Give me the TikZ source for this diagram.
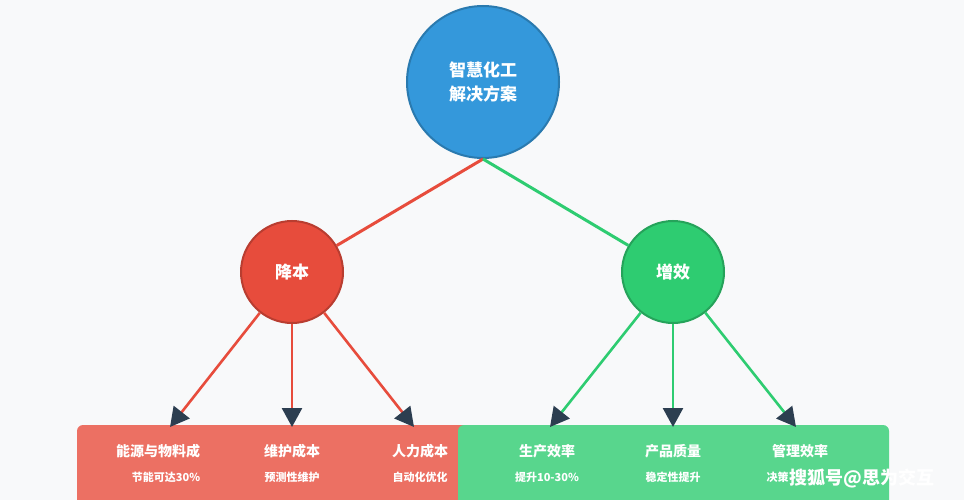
\documentclass[tikz,border=0pt]{standalone}
\usepackage{fontspec}
\setmainfont{Noto Sans CJK SC}
\usetikzlibrary{arrows.meta}
\definecolor{bgc}{HTML}{F8F9FA}
\definecolor{blueC}{HTML}{3498DB}
\definecolor{redC}{HTML}{E74C3C}
\definecolor{greenC}{HTML}{2ECC71}
\definecolor{redBox}{HTML}{EC7063}
\definecolor{greenBox}{HTML}{58D68D}
\definecolor{tipC}{HTML}{2C3E50}
\begin{document}
\begin{tikzpicture}[x=1pt,y=-1pt,
  hub/.style={draw,circle,line width=2pt,text=white,font=\bfseries\fontsize{17}{24}\selectfont,align=center},
  item/.style={text=white,font=\bfseries\fontsize{14}{16}\selectfont},
  sub/.style={text=white,font=\bfseries\fontsize{11}{13}\selectfont},
  link/.style={line width=3pt},
  arr/.style={line width=2.6pt,-{Triangle[length=19pt,width=20pt,color=tipC]}}]
\fill[bgc] (0,0) rectangle (964,500);
\useasboundingbox (0,0) rectangle (964,500);
% boxes
\fill[redBox,rounded corners=6pt] (77,425) rectangle (475,512);
\fill[greenBox,rounded corners=6pt] (458,425) rectangle (889,512);
% circles
\node[hub,fill=blueC,draw=blueC!80!black,minimum size=152pt] (top) at (483,82) {智慧化工\\解决方案};
\node[hub,fill=redC,draw=redC!80!black,minimum size=102pt] (cost) at (292,272) {降本};
\node[hub,fill=greenC,draw=greenC!80!black,minimum size=102pt] (gain) at (673,272) {增效};
\draw[link,redC] (top.south) -- (cost);
\draw[link,greenC] (top.south) -- (gain);
% arrow ends
\coordinate (r1) at (170,427); \coordinate (r2) at (292,427); \coordinate (r3) at (414,427);
\coordinate (g1) at (550,427); \coordinate (g2) at (673,427); \coordinate (g3) at (796,427);
\foreach \t in {r1,r2,r3} \draw[arr,redC] (cost) -- (\t);
\foreach \t in {g1,g2,g3} \draw[arr,greenC] (gain) -- (\t);
% labels
\node[item] (t1) at (158,451) {能源与物料成};
\node[item] (t2) at (292,451) {维护成本};
\node[item] (t3) at (420,451) {人力成本};
\node[item] (t4) at (547,451) {生产效率};
\node[item] (t5) at (673,451) {产品质量};
\node[item] (t6) at (800,451) {管理效率};
\node[sub] (s1) at (166,477) {节能可达30\%};
\node[sub] (s2) at (292,477) {预测性维护};
\node[sub] (s3) at (420,477) {自动化优化};
\node[sub] (s4) at (547,477) {提升10-30\%};
\node[sub] (s5) at (673,477) {稳定性提升};
\node[sub,anchor=west] (s6) at (763,477) {决策};
% watermark
\node[text=white,font=\bfseries\fontsize{18}{20}\selectfont,inner sep=1pt] (wm) at (862,478) {搜狐号@思为交互};
\end{tikzpicture}
\end{document}
